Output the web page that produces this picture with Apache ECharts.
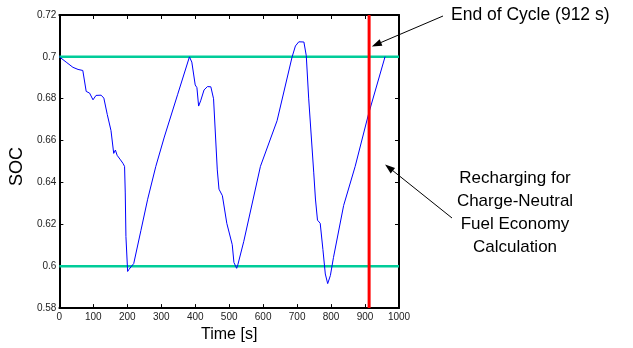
<!DOCTYPE html>
<html>
<head>
<meta charset="utf-8">
<script src="https://cdn.jsdelivr.net/npm/echarts@6/dist/echarts.min.js"></script>
<style>
  html, body { margin: 0; padding: 0; background: #fff; }
  #chart { width: 633px; height: 348px; }
</style>
</head>
<body>
<div id="chart"></div>
<script>
// SOC trace
const timeS = [0, 20, 40, 55, 69, 79, 89, 99, 108, 123, 131, 141, 152, 160, 165, 170, 180, 187, 192, 194, 196, 201, 205, 209, 219, 240, 260, 284, 309, 348, 383, 390, 400, 405, 410, 416, 426, 436, 446, 454, 465, 470, 480, 493, 509, 514, 522, 526, 543, 592, 641, 685, 695, 705, 720, 727, 734, 749, 754, 760, 768, 776, 783, 790, 798, 807, 837, 871, 910, 959];
const soc = [0.700, 0.6975, 0.695, 0.694, 0.6935, 0.6835, 0.6827, 0.6795, 0.6816, 0.6817, 0.6803, 0.6725, 0.6648, 0.6539, 0.6555, 0.653, 0.6508, 0.6492, 0.6477, 0.635, 0.6142, 0.5975, 0.5985, 0.598, 0.6013, 0.617, 0.632, 0.6477, 0.6617, 0.6819, 0.700, 0.6975, 0.6866, 0.6853, 0.6765, 0.679, 0.6842, 0.6858, 0.6857, 0.680, 0.646, 0.6368, 0.6337, 0.6205, 0.6103, 0.6018, 0.599, 0.601, 0.6119, 0.6477, 0.6695, 0.6998, 0.7052, 0.7072, 0.7071, 0.7006, 0.6803, 0.6446, 0.6321, 0.622, 0.6205, 0.608, 0.5963, 0.5917, 0.5956, 0.6041, 0.629, 0.6477, 0.6725, 0.7001];
const socLimits = [0.6, 0.7];
const cycleEnd = 912;
const endLabel = 'End of Cycle (912 s)';
const rechargeLabel = 'Recharging for\nCharge-Neutral\nFuel Economy\nCalculation';

const FONT = 'Liberation Sans, Arial, sans-serif';
const chart = echarts.init(document.getElementById('chart'));

const axisCommon = {
  axisLine: { onZero: false, lineStyle: { color: '#000', width: 2 } },
  axisTick: { inside: true, length: 4, lineStyle: { color: '#000', width: 1 } },
  splitLine: { show: false }
};

const option = {
  animation: false,
  backgroundColor: '#fff',
  grid: { left: 58, right: 234, top: 15, bottom: 33 },
  xAxis: [
    Object.assign({
      type: 'value', position: 'bottom', min: 0, max: 1000, interval: 100,
      name: 'Time [s]', nameLocation: 'middle', nameGap: 16,
      nameTextStyle: { fontFamily: FONT, fontSize: 16, color: '#000' },
      axisLabel: { fontFamily: FONT, fontSize: 10, color: '#222', margin: 4, formatter: v => String(v) }
    }, axisCommon),
    Object.assign({
      type: 'value', position: 'top', min: 0, max: 1000, interval: 100,
      axisLabel: { show: false }
    }, axisCommon)
  ],
  yAxis: [
    Object.assign({
      type: 'value', position: 'left', min: 0.58, max: 0.72, interval: 0.02,
      name: 'SOC', nameLocation: 'middle', nameGap: 23,
      nameTextStyle: { fontFamily: FONT, fontSize: 18, color: '#000', padding: [0, 10, 0, 0] },
      axisLabel: {
        fontFamily: FONT, fontSize: 10, color: '#222', margin: 3,
        formatter: v => String(+v.toFixed(2))
      }
    }, axisCommon),
    Object.assign({
      type: 'value', position: 'right', min: 0.58, max: 0.72, interval: 0.02,
      axisLabel: { show: false }
    }, axisCommon)
  ],
  series: [
    ...socLimits.map(v => ({
      type: 'line', data: [[0, v], [1000, v]], showSymbol: false, silent: true,
      lineStyle: { color: '#00cc99', width: 2.5 }
    })),
    {
      type: 'line', data: timeS.map((t, i) => [t, soc[i]]), showSymbol: false,
      lineStyle: { color: '#0000ff', width: 1 }
    },
    {
      type: 'line', data: [[cycleEnd, 0.58], [cycleEnd, 0.72]], showSymbol: false,
      lineStyle: { color: '#ff0000', width: 3 }
    }
  ]
};
chart.setOption(option);

// arrow helper: line from tail to head with a filled head
function arrow(tail, head) {
  const dx = head[0] - tail[0], dy = head[1] - tail[1];
  const len = Math.hypot(dx, dy), ux = dx / len, uy = dy / len;
  const hl = 10, hw = 3.5;
  const bx = head[0] - ux * hl, by = head[1] - uy * hl;
  return [
    { type: 'line', shape: { x1: tail[0], y1: tail[1], x2: bx, y2: by }, style: { stroke: '#000', lineWidth: 1 } },
    { type: 'polygon', shape: { points: [head, [bx - uy * hw, by + ux * hw], [bx + uy * hw, by - ux * hw]] }, style: { fill: '#000' } }
  ];
}

const endHead = chart.convertToPixel({ xAxisIndex: 0, yAxisIndex: 0 }, [920, 0.705]);
const rechHead = chart.convertToPixel({ xAxisIndex: 0, yAxisIndex: 0 }, [959, 0.6486]);

chart.setOption({
  graphic: [
    ...arrow([443, 16], endHead),
    ...arrow([452, 218], rechHead),
    { type: 'text', left: 451, top: 6, style: { text: endLabel, font: '17.5px ' + FONT, fill: '#000' } },
    { type: 'text', x: 515, y: 167, style: { text: rechargeLabel, font: '17px ' + FONT, fill: '#000', align: 'center', lineHeight: 23 } }
  ]
});
</script>
</body>
</html>
